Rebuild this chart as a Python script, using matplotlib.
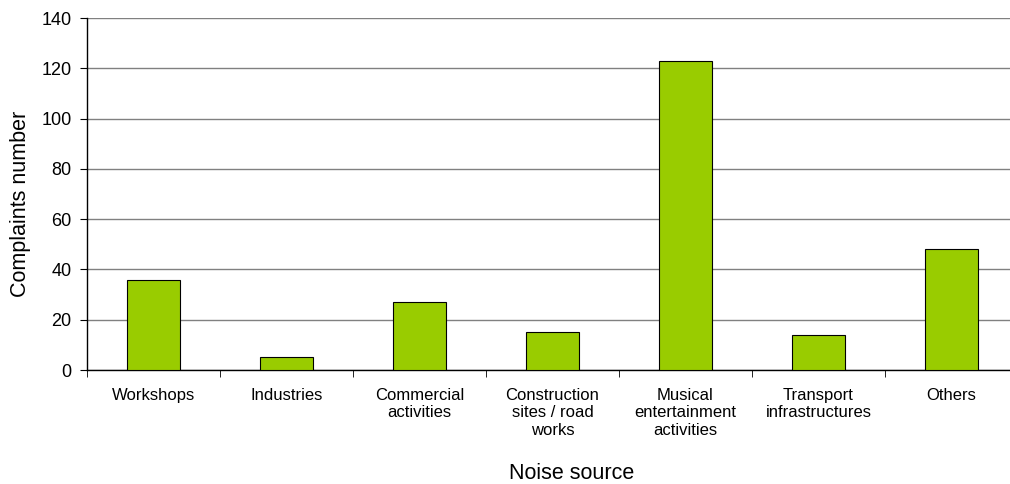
import matplotlib.pyplot as plt
import numpy as np

plt.rcParams['font.family'] = ['Liberation Sans', 'DejaVu Sans']

categories = ['Workshops', 'Industries', 'Commercial\nactivities',
              'Construction\nsites / road\nworks', 'Musical\nentertainment\nactivities',
              'Transport\ninfrastructures', 'Others']
complaints = [36, 5, 27, 15, 123, 14, 48]

fig = plt.figure(figsize=(10.1, 4.84), dpi=100)
# the plot area runs a little past the right edge of the picture
ax = fig.add_axes([0.0861, 0.2355, 0.9218, 0.7273])

x = np.arange(len(categories))
ax.bar(x, complaints, width=0.40, color='#99CC00', edgecolor='black', linewidth=0.8, zorder=3)

ax.set_xlim(-0.5, len(categories) - 0.5)
ax.set_ylim(0, 140)
ax.set_yticks(np.arange(0, 141, 20))
ax.yaxis.grid(True, color='#808080', linewidth=1.0, zorder=0)

ax.set_xticks(x)
ax.set_xticklabels(categories, fontsize=12)
ax.tick_params(axis='x', which='major', length=0, pad=13)
ax.set_xticks(np.arange(-0.5, len(categories), 1.0), minor=True)
ax.tick_params(axis='x', which='minor', length=5, color='black')
ax.tick_params(axis='y', labelsize=13, length=5, pad=6)

for side in ['top', 'right']:
    ax.spines[side].set_visible(False)
for side in ['left', 'bottom']:
    ax.spines[side].set_color('black')
    ax.spines[side].set_linewidth(1.0)

ax.set_xlabel('Noise source', fontsize=15.5)
ax.set_ylabel('Complaints number', fontsize=15.5)
# titles sit centred on the visible part of the chart
ax.xaxis.set_label_coords(0.521, -0.263)
ax.yaxis.set_label_coords(-0.06, 0.473)

fig.savefig('out.png', dpi=100)
